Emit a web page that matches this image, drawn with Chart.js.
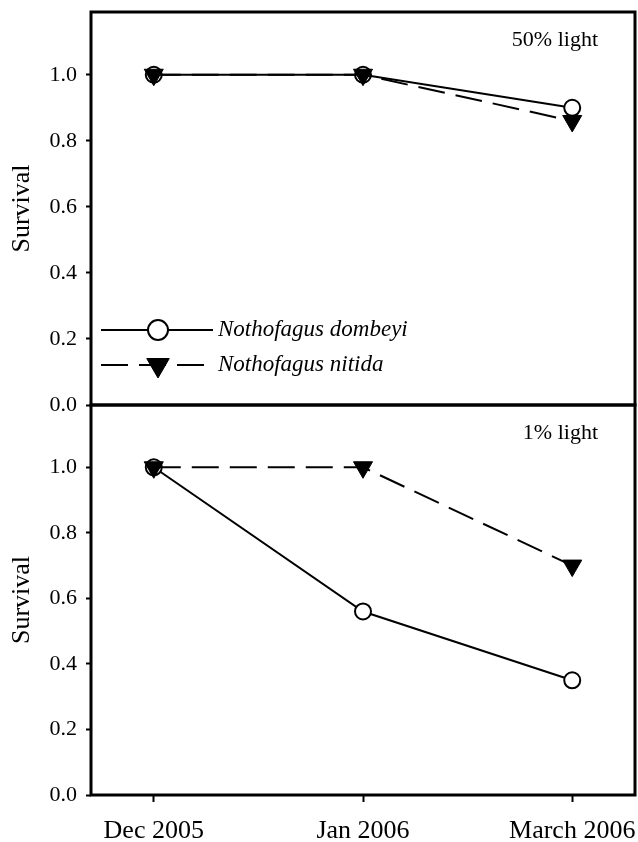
<!DOCTYPE html>
<html>
<head>
<meta charset="utf-8">
<script src="https://cdn.jsdelivr.net/npm/chart.js@4.4.1/dist/chart.umd.min.js"></script>
<style>
html,body{margin:0;padding:0;background:#fff;}
#wrap{position:relative;width:638px;height:842px;overflow:hidden;}
canvas{position:absolute;left:0;}
#top{top:0;}
#bot{top:385px;}
</style>
</head>
<body>
<div id="wrap">
  <canvas id="top" width="638" height="425"></canvas>
  <canvas id="bot" width="638" height="457"></canvas>
</div>
<script>
// data
const MONTHS = ['Dec 2005', 'Jan 2006', 'March 2006'];
const Y_TICKS = [0, 0.2, 0.4, 0.6, 0.8, 1.0];
const SPECIES = ['Nothofagus dombeyi', 'Nothofagus nitida'];
const DOMBEYI_50 = [1.0, 1.0, 0.90];
const NITIDA_50 = [1.0, 1.0, 0.86];
const DOMBEYI_1 = [1.0, 0.56, 0.35];
const NITIDA_1 = [1.0, 1.0, 0.70];

const SERIF = "'Liberation Serif','Times New Roman',serif";

function ds(label, vals, dashed) {
  return {
    label,
    data: vals.map((v, i) => ({x: i, y: v})),
    borderColor: '#000', borderWidth: 2,
    borderDash: dashed ? [27, 11] : [],
    pointStyle: dashed ? 'triangle' : 'circle',
    rotation: dashed ? 180 : 0,
    pointRadius: dashed ? 11 : 8,
    pointBackgroundColor: dashed ? '#000' : '#fff',
    pointBorderColor: '#000',
    pointBorderWidth: dashed ? 1 : 2,
    order: dashed ? 0 : 1,
    tension: 0, fill: false
  };
}

// box, panel label and the little legend
const panelPlugin = {
  id: 'panel',
  afterDraw(chart, args, opts) {
    const {ctx, chartArea: ca} = chart;
    ctx.save();
    ctx.strokeStyle = '#000';
    ctx.lineWidth = 3;
    ctx.strokeRect(ca.left, ca.top, ca.right - ca.left, ca.bottom - ca.top);
    ctx.fillStyle = '#000';
    ctx.font = '22px ' + SERIF;
    ctx.textAlign = 'right';
    ctx.textBaseline = 'middle';
    ctx.fillText(opts.text, ca.right - 37, ca.top + 28);
    if (opts.legend) {
      const sets = [chart.data.datasets[1], chart.data.datasets[0]];
      sets.forEach((d, i) => {
        const y = ca.bottom - 75 + i * 35;
        ctx.beginPath();
        ctx.lineWidth = 2;
        ctx.setLineDash(d.borderDash);
        ctx.moveTo(ca.left + 10, y);
        ctx.lineTo(ca.left + 122, y);
        ctx.stroke();
        ctx.setLineDash([]);
        ctx.fillStyle = d.pointBackgroundColor;
        ctx.lineWidth = d.pointBorderWidth;
        Chart.helpers.drawPoint(ctx, {
          pointStyle: d.pointStyle, rotation: d.rotation,
          radius: d.pointStyle === 'circle' ? 10 : 13, borderWidth: d.pointBorderWidth
        }, ca.left + 67, y);
        ctx.fillStyle = '#000';
        ctx.font = 'italic 23px ' + SERIF;
        ctx.textAlign = 'left';
        ctx.fillText(d.label, ca.left + 127, y);
      });
    }
    ctx.restore();
  }
};

function makeChart(id, dom, nit, text, legend, padTop, padBottom) {
  return new Chart(document.getElementById(id), {
    type: 'line',
    data: {datasets: [ds(SPECIES[1], nit, true), ds(SPECIES[0], dom, false)]},
    options: {
      responsive: false, animation: false, devicePixelRatio: 1,
      layout: {autoPadding: false, padding: {top: padTop, bottom: padBottom, left: 0, right: 3}},
      plugins: {legend: {display: false}, tooltip: {enabled: false}, panel: {text, legend}},
      scales: {
        x: {
          type: 'linear', min: -0.3, max: 2.3, display: !legend,
          afterBuildTicks: s => { s.ticks = MONTHS.map((m, i) => ({value: i})); },
          afterFit: s => {
            if (s.options.display) s.height = 47;
            s.paddingLeft = 0; s.paddingRight = 0;
          },
          ticks: {callback: v => MONTHS[v], color: '#000', font: {family: SERIF, size: 26},
                  padding: 14, maxRotation: 0, autoSkip: false},
          grid: {drawOnChartArea: false, drawTicks: true, tickLength: 7, tickWidth: 2,
                 tickColor: '#000', color: '#000'},
          border: {display: false}
        },
        y: {
          min: 0, max: 1.19,
          afterBuildTicks: s => { s.ticks = Y_TICKS.map(v => ({value: v})); },
          afterFit: s => { s.width = 91; s.paddingTop = 0; s.paddingBottom = 0; },
          ticks: {callback: v => v.toFixed(1), color: '#000', font: {family: SERIF, size: 22}, padding: 9},
          title: {display: true, text: 'Survival', color: '#000',
                  font: {family: SERIF, size: 26}, padding: {top: 7, bottom: 0}},
          grid: {drawOnChartArea: false, drawTicks: true, tickLength: 5, tickWidth: 2,
                 tickColor: '#000', color: '#000'},
          border: {display: false}
        }
      }
    },
    plugins: [panelPlugin]
  });
}

makeChart('top', DOMBEYI_50, NITIDA_50, '50% light', true, 12, 20);
makeChart('bot', DOMBEYI_1, NITIDA_1, '1% light', false, 20, 0);
</script>
</body>
</html>
